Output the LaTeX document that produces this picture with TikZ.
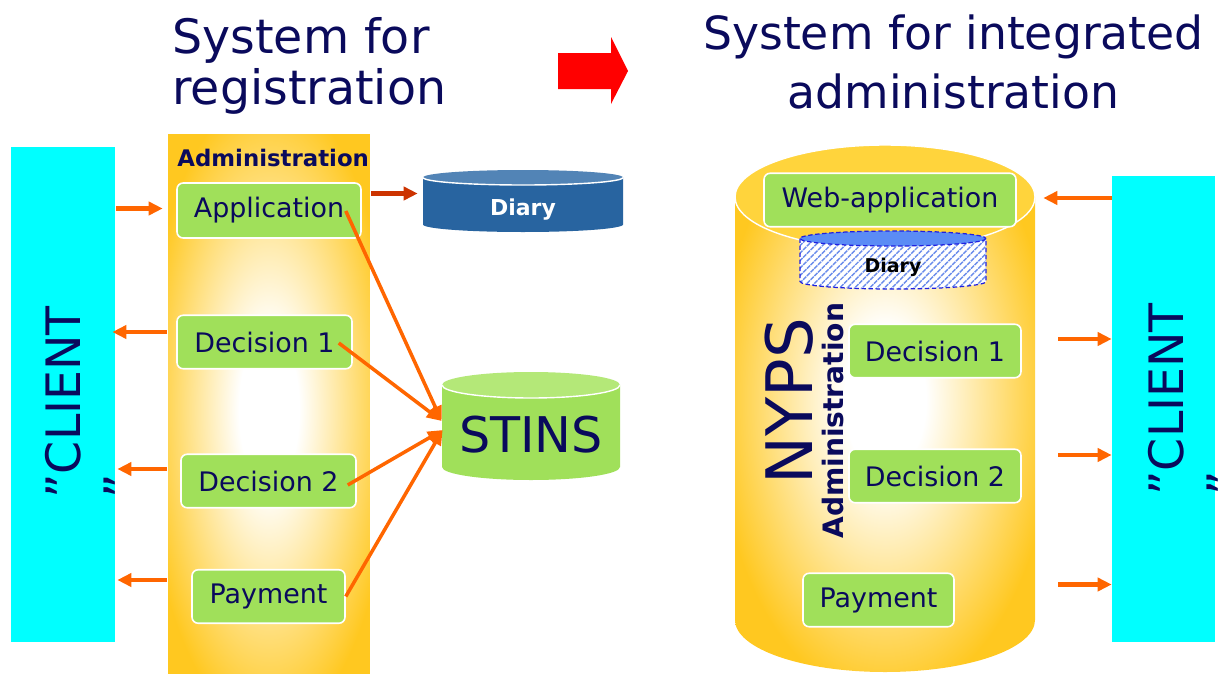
\documentclass[tikz,border=0pt]{standalone}
\usepackage{fontspec}
\setmainfont{DejaVu Sans}
\usetikzlibrary{arrows.meta,calc,patterns.meta}

\definecolor{navy}{HTML}{0A0A5C}
\definecolor{clientcyan}{HTML}{00FFFF}
\definecolor{feedorange}{HTML}{FF6600}
\definecolor{diaryarrow}{HTML}{CC3300}
\definecolor{taskgreen}{HTML}{A0E05A}
\definecolor{admyellow}{HTML}{FFC820}
\definecolor{admtop}{HTML}{FFD43C}
\definecolor{diaryblue}{HTML}{2864A0}
\definecolor{diarytop}{HTML}{5284B6}
\definecolor{stinsgreen}{HTML}{A0E05A}
\definecolor{stinstop}{HTML}{B4E878}
\definecolor{webdiarytop}{HTML}{5B8CF5}
\definecolor{hatchblue}{HTML}{6A8CEB}
\definecolor{dashblue}{HTML}{2020E0}

\pgfdeclareradialshading{glow}{\pgfpoint{0bp}{0bp}}{color(0bp)=(white); color(6bp)=(white); color(25bp)=(admyellow); color(50bp)=(admyellow)}

\begin{document}
\begin{tikzpicture}[x=0.02cm, y=-0.02cm,
  task/.style={draw=white, line width=0.9pt, fill=taskgreen, rounded corners=3.5pt,
    text=navy, font=\fontsize{15.3}{18}\selectfont, inner sep=0pt, minimum height=1.07cm},
  client/.style={fill=clientcyan, inner sep=0pt},
  clienttext/.style={rotate=90, anchor=north west, align=left, inner sep=0pt, text=navy,
    font=\fontsize{27}{33}\selectfont},
  feed/.style={draw=feedorange, line width=2.4pt, -{Triangle[length=8pt, width=7.5pt]}},
  tostins/.style={draw=feedorange, line width=2pt, -{Triangle[length=8.5pt, width=7pt]}},
  vlabel/.style={rotate=90, anchor=base west, inner sep=0pt, text=navy}]
  \path[use as bounding box, fill=white] (0,0) rectangle (1231,673);

  % Headings and the big arrow between them
  \node[anchor=north west, align=left, inner sep=0pt, text=navy,
    font=\fontsize{27}{29}\selectfont] (titleL) at (172,17) {System for\\registration};
  \node[anchor=north, align=center, inner sep=0pt, text=navy,
    font=\fontsize{26}{33.6}\selectfont] (titleR) at (953.5,14) {System for integrated\\administration};
  \fill[red] (558,53) -- (611,53) -- (611,37) -- (628,71) -- (611,104) -- (611,89) -- (558,89) -- cycle;

  % Old system: client, administration column
  \node[client, minimum width=2.08cm, minimum height=9.91cm] (clientL) at (63,394.25) {};
  \node[clienttext] (clientLtext) at (45,499) {”CLIENT\\”};
  \node[inner sep=0pt, minimum width=4.04cm, minimum height=10.8cm,
    path picture={\shade[shading=glow] ([shift={(-2.5cm,-6.52cm)}]path picture bounding box.center) rectangle ([shift={(2.5cm,6.28cm)}]path picture bounding box.center);}] (admL) at (269,404) {};
  \node[anchor=base west, inner sep=0pt, text=navy,
    font=\fontsize{13}{15}\selectfont\bfseries] (admLhead) at (177,166) {Administration};
  \node[task, minimum width=3.68cm, minimum height=1.1cm] (app) at (269,210.5) {Application};
  \node[task, minimum width=3.5cm] (dec1L) at (264.5,342) {Decision 1};
  \node[task, minimum width=3.5cm] (dec2L) at (268.5,481) {Decision 2};
  \node[task, minimum width=3.06cm] (payL) at (268.5,596.5) {Payment};

  % Registers: Diary and STINS
  \fill[diaryblue] (423,177.5) -- (423,224.5) arc[start angle=180, end angle=0, x radius=100, y radius=7.5] -- (623,177.5) -- cycle;
  \fill[diarytop] (523,177.5) ellipse (100 and 7.5);
  \draw[white, line width=0.8pt] (423,177.5) arc[start angle=180, end angle=0, x radius=100, y radius=7.5];
  \node[inner sep=0pt, minimum width=4cm, text=white,
    font=\fontsize{12.5}{15}\selectfont\bfseries] (diaryL) at (523,209.5) {Diary};
  \fill[stinsgreen] (442,385) -- (442,467) arc[start angle=180, end angle=0, x radius=89, y radius=13] -- (620,385) -- cycle;
  \fill[stinstop] (531,385) ellipse (89 and 13);
  \draw[white, line width=0.8pt] (442,385) arc[start angle=180, end angle=0, x radius=89, y radius=13];
  \node[inner sep=0pt, minimum width=3.56cm, text=navy,
    font=\fontsize{28}{33}\selectfont] (stins) at (531,434.5) {STINS};

  % Flows of the old system
  \draw[feed] ($(clientL.east |- app)+(1,-2)$) -- ($(admL.west |- app)+(-5,-2)$);
  \draw[feed] ($(admL.west |- dec1L)+(-1,-10)$) -- ($(clientL.east |- dec1L)+(-3,-10)$);
  \draw[feed] ($(admL.west |- dec2L)+(-1,-12)$) -- ($(clientL.east |- dec2L)+(2,-12)$);
  \draw[feed] ($(admL.west |- payL)+(-1,-16.5)$) -- ($(clientL.east |- payL)+(2,-16.5)$);
  \draw[feed, draw=diaryarrow] ($(admL.east |- diaryL)+(1,-16)$) -- ($(diaryL.west)+(-5,-16)$);
  \draw[tostins] ($(app.east)+(-16,0.5)$) -- ($(stins.west)+(0,-13.5)$);
  \draw[tostins] ($(dec1L.east)+(-14,1)$) -- ($(stins.west)+(0,-13.5)$);
  \draw[tostins] ($(dec2L.east)+(-9,4)$) -- ($(stins.west)+(1,-4.5)$);
  \draw[tostins] (payL.east) -- ($(stins.west)+(1,-4.5)$);

  % New system: one cylinder holding everything
  \node[inner sep=0pt, minimum width=6cm, minimum height=10.54cm] (admR) at (885,408.5) {};
  \begin{scope}
    \clip (735,197) -- (735,620) arc[start angle=180, end angle=0, x radius=150, y radius=52] -- (1035,197) -- cycle;
    \shade[shading=glow] (715,100) rectangle (1055,700);
  \end{scope}
  \filldraw[fill=admtop, draw=white, line width=0.8pt] (885,197) ellipse (150 and 52);
  \node[task, minimum width=5.04cm] (webapp) at (890,200) {Web-application};
  \draw[dashblue, dash pattern=on 2.5pt off 1.5pt, line width=0.7pt, preaction={fill=white},
    pattern={Lines[angle=45, distance=3pt, line width=0.8pt]}, pattern color=hatchblue]
    (800,238.5) -- (800,281.5) arc[start angle=180, end angle=0, x radius=93, y radius=7.5] -- (986,238.5) -- cycle;
  \filldraw[fill=webdiarytop, draw=dashblue, dash pattern=on 2.5pt off 1.5pt, line width=0.7pt] (893,238.5) ellipse (93 and 7.5);
  \node[inner sep=0pt, minimum width=3.72cm,
    font=\fontsize{10.8}{13}\selectfont\bfseries] (diaryR) at (893,267.3) {Diary};
  \node[vlabel, font=\fontsize{36.5}{40}\selectfont] (nyps) at (812,485) {NYPS};
  \node[vlabel, font=\fontsize{16}{19}\selectfont\bfseries] (admRhead) at (843,539) {Administration};
  \node[task, minimum width=3.44cm] (dec1R) at (935,351) {Decision 1};
  \node[task, minimum width=3.44cm] (dec2R) at (935,476) {Decision 2};
  \node[task, minimum width=3.02cm] (payR) at (878.5,600) {Payment};

  % Client of the new system
  \node[client, minimum width=2.06cm, minimum height=9.33cm] (clientR) at (1163.5,408.75) {};
  \node[clienttext] (clientRtext) at (1148,496) {”CLIENT\\”};
  \draw[feed] ($(clientR.west |- webapp)+(0,-2)$) -- ($(admR.east |- webapp)+(8,-2)$);
  \draw[feed] ($(admR.east |- dec1R)+(23,-12)$) -- ($(clientR.west |- dec1R)+(0,-12)$);
  \draw[feed] ($(admR.east |- dec2R)+(23,-21)$) -- ($(clientR.west |- dec2R)+(0,-21)$);
  \draw[feed] ($(admR.east |- payR)+(23,-15.5)$) -- ($(clientR.west |- payR)+(0,-15.5)$);
\end{tikzpicture}
\end{document}
